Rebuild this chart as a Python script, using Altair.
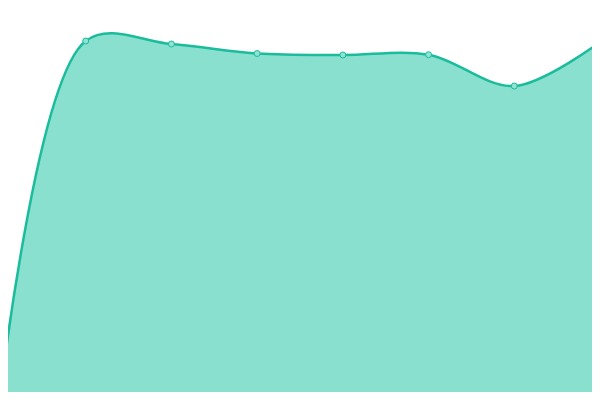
import altair as alt
import pandas as pd

idx = [0, 1, 2, 3, 4, 5, 6, 7]
values = [2, 359, 356, 346.5, 345, 345.3, 314, 358]

df = pd.DataFrame({"i": idx, "v": values})

step = 600 / 7
xs = alt.Scale(domain=[8 / step, 592 / step], nice=False, zero=False)
ys = alt.Scale(domain=[8, 392], nice=False, zero=False)

base = alt.Chart(df).encode(
    x=alt.X("i:Q", scale=xs, axis=None),
    y=alt.Y("v:Q", scale=ys, axis=None),
)

area = base.mark_area(interpolate="catmull-rom", color="#89e0cf", opacity=1, clip=True)
line = base.mark_line(interpolate="catmull-rom", color="#1abc9c", strokeWidth=2.5, clip=True)
pts = base.mark_point(filled=True, fill="#8fe3d3", stroke="#1abc9c", strokeWidth=1, size=36, opacity=1, clip=True)

chart = alt.layer(area, line, pts).properties(
    width=584, height=384, padding=0, autosize=alt.AutoSizeParams(type="none")
).configure_view(stroke=None)

chart.save("out.html", embed_options={"renderer": "svg", "actions": False})
